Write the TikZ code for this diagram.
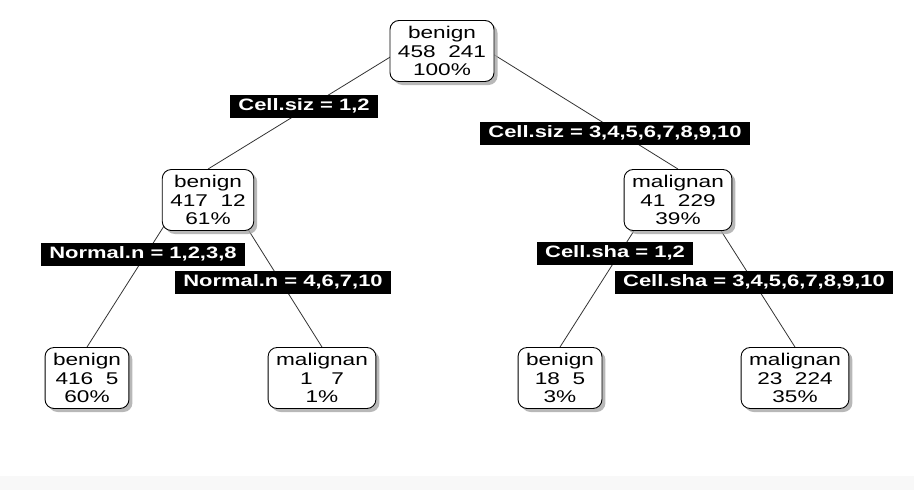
\documentclass[tikz,border=0pt]{standalone}
\usepackage{fontspec}
\setmainfont{Liberation Sans}[FakeStretch=1.33]
\usepackage{tikz}
\usetikzlibrary{backgrounds,shadows}
\definecolor{tgray}{HTML}{333333}
\definecolor{tshadow}{HTML}{A6A6A6}
\definecolor{tband}{HTML}{F8F8F8}
\tikzset{
  % Rounded white box with a soft shadow, three lines of text.
  leaf/.style  = {rectangle, rounded corners=9pt, draw=black, fill=white, line width=0.9pt,
                  align=center, inner xsep=8pt, inner ysep=2pt, minimum height=61pt,
                  font=\fontsize{17}{18.5}\selectfont,
                  drop shadow={shadow xshift=3.5pt, shadow yshift=-3.5pt, fill=tshadow, opacity=0.8}},
  split/.style = {rectangle, fill=black, text=white, inner xsep=8pt, inner ysep=0pt,
                  minimum height=23pt, font=\fontsize{16.5}{18}\selectfont\bfseries},
  br/.style    = {draw=tgray, line width=0.8pt},
}

\begin{document}
\begin{tikzpicture}[x=1pt,y=-1pt]
\useasboundingbox (0,0) rectangle (914,490);
\fill[tband] (0,476) rectangle (914,490);
% nodes
\node[leaf] (root) at (442,51)  {benign\\458\ \ 241\\100\%};
\node[leaf] (l)    at (208,200) {benign\\417\ \ 12\\61\%};
\node[leaf] (r)    at (678,200) {malignan\\41\ \ 229\\39\%};
\node[leaf] (ll)   at (87,378)  {benign\\416\ \ 5\\60\%};
\node[leaf] (lr)   at (322,378) {malignan\\1\ \ \ 7\\1\%};
\node[leaf] (rl)   at (560,378) {benign\\18\ \ 5\\3\%};
\node[leaf] (rr)   at (795,378) {malignan\\23\ \ 224\\35\%};
% branches
\begin{scope}[on background layer]
\draw[br] ([xshift=-42pt]root.center) -- (l.north);
\draw[br] ([xshift=46pt]root.center) -- (r.north);
\draw[br] ([xshift=-37pt,yshift=-15pt]l.center) -- (ll.north);
\draw[br] ([xshift=31pt,yshift=-15pt]l.center) -- (lr.north);
\draw[br] ([xshift=-34pt,yshift=-15pt]r.center) -- (rl.north);
\draw[br] ([xshift=33pt,yshift=-15pt]r.center) -- (rr.north);
\end{scope}
% split labels
\node[split] (s1) at (304,106) {Cell.siz = 1,2};
\node[split] (s2) at (615,133) {Cell.siz = 3,4,5,6,7,8,9,10};
\node[split] (s3) at (143,254) {Normal.n = 1,2,3,8};
\node[split] (s4) at (283,282) {Normal.n = 4,6,7,10};
\node[split] (s5) at (615,253) {Cell.sha = 1,2};
\node[split] (s6) at (754,282) {Cell.sha = 3,4,5,6,7,8,9,10};
\end{tikzpicture}
\end{document}
